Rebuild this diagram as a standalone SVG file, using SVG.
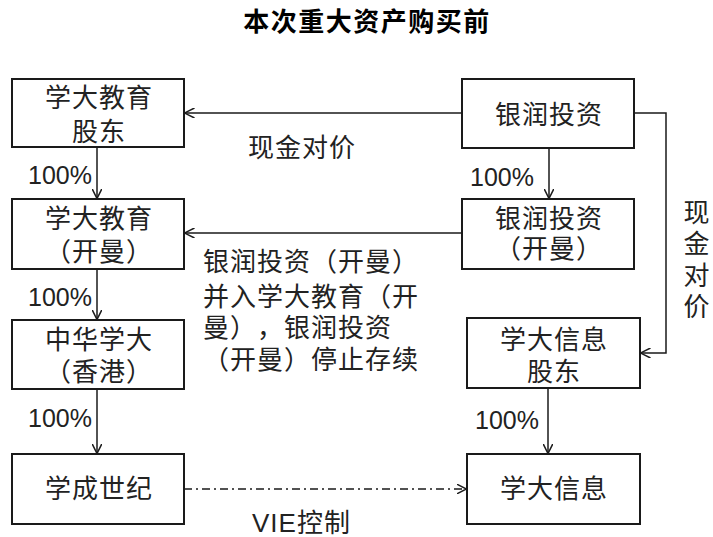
<svg xmlns="http://www.w3.org/2000/svg" width="713" height="537" viewBox="0 0 713 537">
<style>
.box{fill:#fff;stroke:#1a1a1a;stroke-width:2}
.t{font-family:"Liberation Sans","Noto Sans CJK SC",sans-serif;font-size:26px;fill:#222;letter-spacing:1px;text-spacing-trim:space-all;font-feature-settings:"chws" 0,"halt" 0}
.c{text-anchor:middle}
.p{font-family:"Liberation Sans","Noto Sans CJK SC",sans-serif;font-size:25px;fill:#222}
.ln{fill:none;stroke:#1a1a1a;stroke-width:1.5}
.title{font-family:"Noto Sans CJK SC",sans-serif;font-size:26px;font-weight:bold;fill:#000;text-anchor:middle;letter-spacing:1.5px}
</style>
<defs>
<marker id="arr" viewBox="0 0 10 10" refX="9.5" refY="5" markerWidth="10" markerHeight="10" markerUnits="userSpaceOnUse" orient="auto">
<path d="M0,0 L10,5 L0,10" fill="none" stroke="#1a1a1a" stroke-width="1.5"/>
</marker>
</defs>
<rect width="713" height="537" fill="#fff"/>
<text class="title" x="367" y="31">本次重大资产购买前</text>

<g id="connectors">
<line class="ln" x1="462" y1="113" x2="185" y2="113" marker-end="url(#arr)"/>
<line class="ln" x1="462" y1="233" x2="185" y2="233" marker-end="url(#arr)"/>
<polyline class="ln" points="634,113 666,113 666,353 641,353" marker-end="url(#arr)"/>
<line class="ln" x1="97" y1="148" x2="97" y2="198" marker-end="url(#arr)"/>
<line class="ln" x1="97" y1="269" x2="97" y2="319" marker-end="url(#arr)"/>
<line class="ln" x1="97" y1="389" x2="97" y2="453" marker-end="url(#arr)"/>
<line class="ln" x1="549" y1="148" x2="549" y2="198" marker-end="url(#arr)"/>
<line class="ln" x1="548" y1="388" x2="548" y2="453" marker-end="url(#arr)"/>
<line class="ln" x1="184" y1="489" x2="466" y2="489" stroke-dasharray="8,4,2,4" marker-end="url(#arr)"/>
<text class="t" x="248" y="157">现金对价</text>
<text class="t" x="203" y="271">银润投资（开曼）</text>
<text class="t" x="203" y="306">并入学大教育（开</text>
<text class="t" x="203" y="337">曼），银润投资</text>
<text class="t" x="203" y="369">（开曼）停止存续</text>
<text class="t c" x="697" y="222">现</text>
<text class="t c" x="697" y="253">金</text>
<text class="t c" x="697" y="285">对</text>
<text class="t c" x="697" y="316">价</text>
<text class="t" x="252" y="532">VIE控制</text>
<text class="p" x="28" y="184">100%</text>
<text class="p" x="28" y="306">100%</text>
<text class="p" x="28" y="427">100%</text>
<text class="p" x="470" y="186">100%</text>
<text class="p" x="475" y="429">100%</text>
</g>

<g id="n1"><rect class="box" x="12" y="79" width="172" height="68"/>
<text class="t c" x="99" y="107">学大教育</text><text class="t c" x="99" y="141">股东</text></g>
<g id="n2"><rect class="box" x="12" y="199" width="172" height="70"/>
<text class="t c" x="99" y="228">学大教育</text><text class="t c" x="99" y="261">（开曼）</text></g>
<g id="n3"><rect class="box" x="12" y="320" width="172" height="69"/>
<text class="t c" x="99" y="349">中华学大</text><text class="t c" x="99" y="381">（香港）</text></g>
<g id="n4"><rect class="box" x="12" y="454" width="172" height="70"/>
<text class="t c" x="99" y="498">学成世纪</text></g>
<g id="n5"><rect class="box" x="462" y="79" width="172" height="69"/>
<text class="t c" x="549" y="124">银润投资</text></g>
<g id="n6"><rect class="box" x="462" y="199" width="172" height="70"/>
<text class="t c" x="549" y="228">银润投资</text><text class="t c" x="549" y="258">（开曼）</text></g>
<g id="n7"><rect class="box" x="467" y="318" width="173" height="70"/>
<text class="t c" x="554" y="349">学大信息</text><text class="t c" x="554" y="381">股东</text></g>
<g id="n8"><rect class="box" x="467" y="454" width="173" height="70"/>
<text class="t c" x="554" y="498">学大信息</text></g>
</svg>
